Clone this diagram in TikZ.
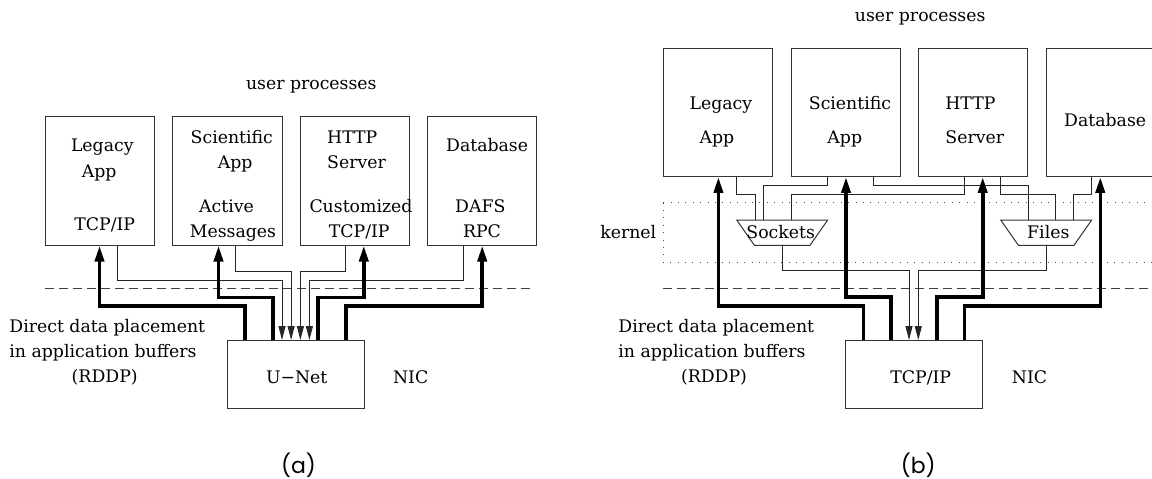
\documentclass[tikz,border=0pt]{standalone}
\usepackage{fontspec}
\setmainfont{DejaVu Serif}
\newfontfamily\capfont{Poppins}
\usetikzlibrary{arrows.meta}

\tikzset{
  appbox/.style={draw=black!80, line width=1pt, inner sep=0pt, outer sep=0pt,
    minimum width=109.4pt, minimum height=128.8pt},
  nicbox/.style={draw=black!80, line width=1pt, inner sep=0pt, outer sep=0pt,
    minimum width=136.5pt, minimum height=68.5pt},
  % frame of a multiplexer; its trapezoid outline is drawn from the anchors
  muxframe/.style={inner sep=0pt, outer sep=0pt, minimum width=91pt, minimum height=25.3pt},
  muxline/.style={draw=black!80, line width=1pt, line join=miter},
  txt/.style={inner sep=0pt, anchor=base, font=\fontsize{17.3}{20}\selectfont},
  txtw/.style={txt, anchor=base west},
  ctl/.style={draw=black!85, line width=0.9pt},
  ctlarrow/.style={ctl, -{Triangle[length=14pt,width=7pt]}},
  dataflow/.style={draw=black, line width=3.6pt, line join=miter,
    -{Triangle[length=16pt,width=9pt]}},
  boundary/.style={draw=black!75, line width=0.9pt, dash pattern=on 9pt off 5pt},
  kernelzone/.style={draw=black!70, line width=1pt, dash pattern=on 1pt off 6.4pt},
  caption/.style={inner sep=0pt, anchor=base, font=\capfont\fontsize{22}{26}\selectfont},
}

\begin{document}
\begin{tikzpicture}[x=1pt,y=-1pt]
\useasboundingbox (0,0) rectangle (1152,479);
\clip (0,0) rectangle (1152,479);

% ---------------- (a) U-Net ----------------
\node[txt] (upA) at (311.3,89.5) {user processes};

\node[appbox] (legA)  at (100.1,181.1) {};
\node[appbox] (sciA)  at (227.4,181.1) {};
\node[appbox] (httpA) at (354.85,181.1) {};
\node[appbox] (dbA)   at (482,181.1) {};
\node[nicbox] (unet)  at (295.75,374.25) {};

\node[txt] (legA1) at (102.3,151.3) {Legacy};
\node[txt] (legA2) at (99.2,177) {App};
\node[txt] (legA3) at (104.7,230) {TCP/IP};
\node[txt] (sciA1) at (231.8,143) {Scientific};
\node[txt] (sciA2) at (235.1,168.7) {App};
\node[txt] (sciA3) at (226.5,212) {Active};
\node[txt] (sciA4) at (232.9,237.7) {Messages};
\node[txtw] (httpA1) at (327,143) {HTTP};
\node[txtw] (httpA2) at (327,168.7) {Server};
\node[txt] (httpA3) at (361,212) {Customized};
\node[txt] (httpA4) at (359.2,237.7) {TCP/IP};
\node[txt] (dbA1) at (487.1,151.5) {Database};
\node[txt] (dbA2) at (480.3,212) {DAFS};
\node[txt] (dbA3) at (482,237.7) {RPC};

\node[txt] (unetT) at (296.7,383) {U−Net};
\node[txt] (nicA) at (410.7,383) {NIC};
\node[txtw] (ddpA1) at (9.2,332) {Direct data placement};
\node[txtw] (ddpA2) at (9.2,357) {in application buffers};
\node[txt] (ddpA3) at (104.7,382) {(RDDP)};
\node[caption] (capA) at (298.5,473) {(a)};

\draw[boundary] (45.2,288.5) -- (533.5,288.5);

% control paths into the NIC
\draw[ctlarrow] ([xshift=72.4pt]legA.south west) -- ++(0,34.5) -| ([xshift=54.5pt]unet.north west);
\draw[ctlarrow] ([xshift=63.2pt]sciA.south west) -- ++(0,26.2) -| ([xshift=63.6pt]unet.north west);
\draw[ctlarrow] ([xshift=45.15pt]httpA.south west) -- ++(0,26.2) -| ([xshift=72.9pt]unet.north west);
\draw[ctlarrow] ([xshift=36.3pt]dbA.south west) -- ++(0,34.5) -| ([xshift=81.9pt]unet.north west);

% direct data placement into application buffers
\draw[dataflow] ([xshift=17.5pt]unet.north west) -- ++(0,-34) -| ([xshift=54.1pt]legA.south west);
\draw[dataflow] ([xshift=45.2pt]unet.north west) -- ++(0,-42.7) -| ([xshift=45.8pt]sciA.south west);
\draw[dataflow] ([xshift=90.7pt]unet.north west) -- ++(0,-42.7) -| ([xshift=63.65pt]httpA.south west);
\draw[dataflow] ([xshift=118.2pt]unet.north west) -- ++(0,-34) -| ([xshift=54.9pt]dbA.south west);

% ---------------- (b) TCP/IP offload ----------------
\node[txt] (upB) at (920.2,21.3) {user processes};

\node[appbox] (legB)  at (718.2,112.5) {};
\node[appbox] (sciB)  at (845.9,112.5) {};
\node[appbox] (httpB) at (972.9,112.5) {};
\node[appbox] (dbB)   at (1100.7,112.5) {};
\node[nicbox] (tcp)   at (914.2,374.25) {};

\node[txt] (legB1) at (720.9,109) {Legacy};
\node[txt] (legB2) at (717,143.3) {App};
\node[txt] (sciB1) at (850,109.5) {Scientific};
\node[txt] (sciB2) at (844.8,143.3) {App};
\node[txtw] (httpB1) at (945.2,109.5) {HTTP};
\node[txtw] (httpB2) at (945.2,143.3) {Server};
\node[txtw] (dbB1) at (1064,126) {Database};

\draw[kernelzone] (663.3,202.5) rectangle (1170,262.3);
\node[txt] (kern) at (628.3,238) {kernel};

% socket and file multiplexers (wide side up)
\node[muxframe] (sock)  at (782.2,232.65) {};
\node[muxframe] (files) at (1046.2,232.65) {};
\draw[muxline] (sock.north west) -- (sock.north east) -- ([xshift=-17.7pt]sock.south east)
  -- ([xshift=17.7pt]sock.south west) -- cycle;
\draw[muxline] (files.north west) -- (files.north east) -- ([xshift=-17.7pt]files.south east)
  -- ([xshift=17.7pt]files.south west) -- cycle;
\node[txt] (sockT) at (780.7,238) {Sockets};
\node[txt] (filesT) at (1048.3,238) {Files};

\node[txt] (tcpT) at (920.7,383) {TCP/IP};
\node[txt] (nicB) at (1029.5,383) {NIC};
\node[txtw] (ddpB1) at (618.2,332) {Direct data placement};
\node[txtw] (ddpB2) at (618.2,357) {in application buffers};
\node[txt] (ddpB3) at (714,382) {(RDDP)};
\node[caption] (capB) at (918.3,473) {(b)};

\draw[boundary] (663.4,288.5) -- (1160,288.5);

% applications into the socket and file layers
\draw[ctl] ([xshift=73.3pt]legB.south west) -- ++(0,17.1) -| ([xshift=-27pt]sock.north);
\draw[ctl] ([xshift=36.6pt]sciB.south west) -- ++(0,8.1) -| ([xshift=-18.7pt]sock.north);
\draw[ctl] ([xshift=46.1pt]httpB.south west) -- ++(0,17.1) -| ([xshift=8.8pt]sock.north);
\draw[ctl] ([xshift=81.8pt]sciB.south west) -- ++(0,8.1) -| ([xshift=-18.2pt]files.north);
\draw[ctl] ([xshift=82.6pt]httpB.south west) -- ++(0,17.1) -| ([xshift=9.6pt]files.north);
\draw[ctl] ([xshift=45.5pt]dbB.south west) -- ++(0,17.1) -| ([xshift=27.1pt]files.north);

% kernel layers down to the NIC
\draw[ctlarrow] (sock.south) -- ++(0,25.4) -| ([xshift=63.05pt]tcp.north west);
\draw[ctlarrow] (files.south) -- ++(0,25.4) -| ([xshift=72.35pt]tcp.north west);

% direct data placement into application buffers
\draw[dataflow] ([xshift=17.55pt]tcp.north west) -- ++(0,-34) -| ([xshift=54.9pt]legB.south west);
\draw[dataflow] ([xshift=45.05pt]tcp.north west) -- ++(0,-43.3) -| ([xshift=54.8pt]sciB.south west);
\draw[dataflow] ([xshift=90.75pt]tcp.north west) -- ++(0,-43.3) -| ([xshift=64.5pt]httpB.south west);
\draw[dataflow] ([xshift=118.35pt]tcp.north west) -- ++(0,-34) -| ([xshift=54.3pt]dbB.south west);
\end{tikzpicture}
\end{document}
